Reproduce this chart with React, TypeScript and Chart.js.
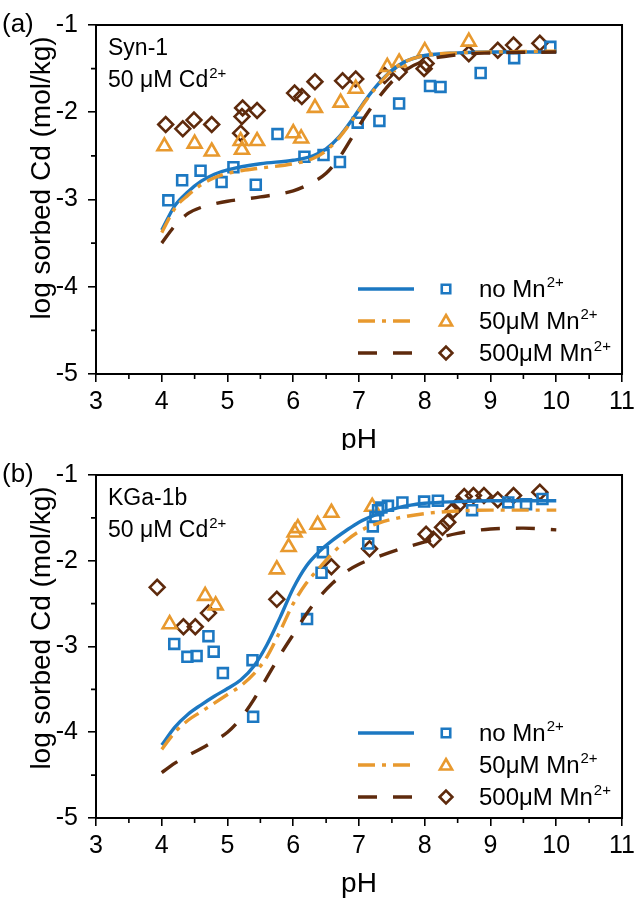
import React, { useEffect, useRef } from 'react';
import { Chart, registerables } from 'chart.js';

Chart.register(...registerables);

// ---------------- data ----------------
// Panel (a) Syn-1 — model curves
const synCurvePH = [4.0, 4.2, 4.4, 4.6, 4.8, 5.0, 5.5, 6.0, 6.3, 6.5, 6.7, 6.9, 7.1, 7.3, 7.5, 7.7, 8.0, 8.5, 9.0, 10.0];
const synModelNoMn = [-3.35, -3.07, -2.91, -2.79, -2.71, -2.66, -2.59, -2.55, -2.50, -2.42, -2.28, -2.08, -1.86, -1.67, -1.52, -1.42, -1.35, -1.32, -1.31, -1.31];
const synModel50Mn = [-3.38, -3.10, -2.95, -2.83, -2.75, -2.70, -2.64, -2.59, -2.53, -2.44, -2.29, -2.09, -1.87, -1.68, -1.52, -1.42, -1.35, -1.32, -1.31, -1.30];
const synModel500Mn = [-3.50, -3.30, -3.16, -3.09, -3.05, -3.02, -2.97, -2.90, -2.80, -2.70, -2.52, -2.28, -2.04, -1.83, -1.65, -1.52, -1.41, -1.34, -1.32, -1.31];

// Panel (a) Syn-1 — measured
const synNoMnPH = [4.10, 4.31, 4.59, 4.91, 5.09, 5.43, 5.76, 6.17, 6.46, 6.71, 6.98, 7.31, 7.61, 8.08, 8.24, 8.85, 9.36, 9.91];
const synNoMnLog = [-3.01, -2.78, -2.67, -2.80, -2.63, -2.83, -2.25, -2.51, -2.49, -2.57, -2.12, -2.10, -1.90, -1.70, -1.71, -1.55, -1.38, -1.25];
const syn50MnPH = [4.04, 4.50, 4.76, 5.20, 5.22, 5.45, 6.00, 6.12, 6.33, 6.72, 6.95, 7.43, 7.61, 8.00, 8.67];
const syn50MnLog = [-2.39, -2.36, -2.45, -2.33, -2.43, -2.33, -2.24, -2.30, -1.95, -1.89, -1.73, -1.48, -1.43, -1.30, -1.19];
const syn500MnPH = [4.06, 4.32, 4.49, 4.76, 5.20, 5.22, 5.23, 5.45, 6.02, 6.13, 6.33, 6.75, 6.95, 7.39, 7.61, 7.99, 8.02, 8.67, 9.11, 9.35, 9.75];
const syn500MnLog = [-2.14, -2.19, -2.09, -2.14, -2.24, -2.05, -1.95, -1.98, -1.78, -1.82, -1.65, -1.64, -1.62, -1.58, -1.54, -1.50, -1.44, -1.33, -1.29, -1.23, -1.21];

// Panel (b) KGa-1b — model curves
const kgaCurvePH = [4.0, 4.2, 4.4, 4.6, 4.8, 5.0, 5.2, 5.4, 5.6, 5.8, 6.0, 6.2, 6.4, 6.6, 6.8, 7.0, 7.3, 7.6, 8.0, 8.5, 9.0, 9.5, 10.0];
const kgaModelNoMn = [-4.15, -3.94, -3.79, -3.68, -3.58, -3.49, -3.39, -3.23, -2.98, -2.66, -2.32, -2.06, -1.89, -1.76, -1.65, -1.55, -1.45, -1.38, -1.33, -1.31, -1.30, -1.30, -1.30];
const kgaModel50Mn = [-4.20, -4.00, -3.86, -3.76, -3.66, -3.56, -3.46, -3.32, -3.12, -2.82, -2.50, -2.26, -2.08, -1.91, -1.77, -1.66, -1.56, -1.50, -1.45, -1.42, -1.41, -1.41, -1.41];
const kgaModel500Mn = [-4.47, -4.36, -4.27, -4.19, -4.10, -4.00, -3.84, -3.62, -3.36, -3.10, -2.86, -2.62, -2.42, -2.26, -2.13, -2.04, -1.95, -1.87, -1.78, -1.68, -1.63, -1.62, -1.64];

// Panel (b) KGa-1b — measured
const kgaNoMnPH = [4.19, 4.39, 4.53, 4.71, 4.79, 4.93, 5.38, 5.39, 6.21, 6.43, 6.45, 7.14, 7.21, 7.25, 7.29, 7.34, 7.44, 7.66, 7.99, 8.20, 8.72, 9.27, 9.54, 9.79];
const kgaNoMnLog = [-2.97, -3.12, -3.11, -2.88, -3.06, -3.31, -3.16, -3.82, -2.68, -2.14, -1.90, -1.80, -1.60, -1.49, -1.41, -1.38, -1.36, -1.32, -1.31, -1.30, -1.41, -1.32, -1.34, -1.28];
const kga50MnPH = [4.12, 4.66, 4.82, 5.75, 5.93, 6.02, 6.07, 6.37, 6.58, 7.20];
const kga50MnLog = [-2.74, -2.41, -2.52, -2.10, -1.84, -1.67, -1.62, -1.58, -1.44, -1.37];
const kga500MnPH = [3.93, 4.33, 4.51, 4.71, 5.75, 6.58, 7.16, 8.02, 8.13, 8.27, 8.35, 8.43, 8.52, 8.60, 8.74, 8.90, 9.11, 9.35, 9.75];
const kga500MnLog = [-2.31, -2.77, -2.77, -2.61, -2.45, -2.07, -1.86, -1.69, -1.75, -1.61, -1.55, -1.41, -1.34, -1.25, -1.24, -1.24, -1.29, -1.24, -1.20];

// axes
const X_MIN = 3, X_MAX = 11;
const Y_MIN = -5, Y_MAX = -1;
const xMinorTicks = [3.5, 4.5, 5.5, 6.5, 7.5, 8.5, 9.5, 10.5];
const yMinorTicks = [-1.5, -2.5, -3.5, -4.5];

const legendLabels = ['no Mn', '50\u03bcM Mn', '500\u03bcM Mn'];
const legendSup = '2+';

// ---------------- style ----------------
const FAMILY = "'Liberation Sans', Arial, Helvetica, sans-serif";
const BLUE = '#1c78c2';
const ORANGE = '#e8992e';
const BROWN = '#5e2a0c';
const COLORS = [BLUE, ORANGE, BROWN];
const DASHES: number[][] = [[], [17, 7, 4, 7], [19, 16]];
const SHAPES = ['rect', 'triangle', 'rectRot'];
const RADII = [7.0, 8.0, 7.4];

function pts(xs: number[], ys: number[]) {
  return xs.map((x, i) => ({ x, y: ys[i] }));
}

function drawMarker(ctx: CanvasRenderingContext2D, shape: string, x: number, y: number, r: number) {
  ctx.beginPath();
  if (shape === 'rect') {
    const s = Math.SQRT1_2 * r;
    ctx.rect(x - s, y - s, 2 * s, 2 * s);
  } else if (shape === 'triangle') {
    for (let k = 0; k < 3; k++) {
      const a = (k * 2 * Math.PI) / 3;
      const px = x + Math.sin(a) * r;
      const py = y - Math.cos(a) * r;
      if (k === 0) ctx.moveTo(px, py);
      else ctx.lineTo(px, py);
    }
    ctx.closePath();
  } else {
    ctx.moveTo(x - r, y);
    ctx.lineTo(x, y - r);
    ctx.lineTo(x + r, y);
    ctx.lineTo(x, y + r);
    ctx.closePath();
  }
  ctx.stroke();
}

function textWithSup(ctx: CanvasRenderingContext2D, x: number, y: number, base: string, sup: string, size: number) {
  ctx.font = `${size}px ${FAMILY}`;
  ctx.textAlign = 'left';
  ctx.textBaseline = 'alphabetic';
  ctx.fillText(base, x, y);
  const w = ctx.measureText(base).width;
  ctx.font = `${Math.round(size * 0.64)}px ${FAMILY}`;
  ctx.fillText(sup, x + w + 1, y - size * 0.4);
}

interface PanelSpec {
  height: number;
  top: number;
  letter: string;
  sample: string;
  curvePH: number[];
  models: number[][];
  obsPH: number[][];
  obsLog: number[][];
}

function makeChart(canvas: HTMLCanvasElement, p: PanelSpec) {
  const axisH = p.height - (p.top + 351);
  const lineSets = [2, 1, 0].map((i) => ({
    data: pts(p.curvePH, p.models[i]),
    showLine: true,
    pointRadius: 0,
    borderColor: COLORS[i],
    borderWidth: 3.4,
    borderDash: DASHES[i],
    borderCapStyle: 'butt' as const,
    cubicInterpolationMode: 'monotone' as const,
    fill: false,
  }));
  const pointSets = [0, 1, 2].map((i) => ({
    data: pts(p.obsPH[i], p.obsLog[i]),
    showLine: false,
    pointStyle: SHAPES[i],
    pointRadius: RADII[i],
    pointBorderWidth: 2.6,
    borderColor: COLORS[i],
    pointBorderColor: COLORS[i],
    backgroundColor: 'rgba(0,0,0,0)',
    pointBackgroundColor: 'rgba(0,0,0,0)',
  }));

  const decor = {
    id: 'decor',
    afterDraw(chart: any) {
      const ctx: CanvasRenderingContext2D = chart.ctx;
      const { left, right, top, bottom } = chart.chartArea;
      const xs = chart.scales.x;
      const ys = chart.scales.y;
      ctx.save();
      // frame
      ctx.strokeStyle = '#000';
      ctx.lineWidth = 2;
      ctx.strokeRect(left, top, right - left, bottom - top);
      // minor ticks
      ctx.lineWidth = 1.6;
      ctx.beginPath();
      xMinorTicks.forEach((v) => {
        const px = xs.getPixelForValue(v);
        ctx.moveTo(px, bottom);
        ctx.lineTo(px, bottom + 5);
      });
      yMinorTicks.forEach((v) => {
        const py = ys.getPixelForValue(v);
        ctx.moveTo(left, py);
        ctx.lineTo(left - 5, py);
      });
      ctx.stroke();

      ctx.fillStyle = '#000';
      // panel letter
      ctx.font = `26px ${FAMILY}`;
      ctx.textAlign = 'left';
      ctx.textBaseline = 'alphabetic';
      ctx.fillText(p.letter, 2, top + 7);
      // axis titles
      ctx.font = `28px ${FAMILY}`;
      ctx.textAlign = 'center';
      ctx.fillText('pH', (left + right) / 2, bottom + 74);
      ctx.save();
      ctx.translate(50, top + 153);
      ctx.rotate(-Math.PI / 2);
      ctx.textBaseline = 'alphabetic';
      ctx.fillText('log sorbed Cd (mol/kg)', 0, 0);
      ctx.restore();
      // sample annotation
      ctx.font = `23px ${FAMILY}`;
      ctx.textAlign = 'left';
      ctx.fillText(p.sample, left + 12, top + 30);
      textWithSup(ctx, left + 12, top + 62, '50 \u03bcM Cd', '2+', 23);
      // legend
      const rows = [bottom - 85, bottom - 53, bottom - 21];
      rows.forEach((ry, i) => {
        ctx.strokeStyle = COLORS[i];
        ctx.lineWidth = 3.4;
        ctx.setLineDash(DASHES[i]);
        ctx.beginPath();
        ctx.moveTo(left + 262, ry);
        ctx.lineTo(left + 318, ry);
        ctx.stroke();
        ctx.setLineDash([]);
        ctx.lineWidth = 2.6;
        drawMarker(ctx, SHAPES[i], left + 350, ry + (i === 1 ? 1 : 0), RADII[i] - 1);
        ctx.fillStyle = '#000';
        textWithSup(ctx, left + 383, ry + 8, legendLabels[i], legendSup, 24);
      });
      ctx.restore();
    },
  };

  const tickFont = { family: FAMILY, size: 25 };
  return new Chart(canvas, {
    type: 'scatter',
    data: { datasets: [...lineSets, ...pointSets] as any },
    options: {
      responsive: false,
      maintainAspectRatio: false,
      animation: false,
      devicePixelRatio: 1,
      layout: { padding: { top: p.top, right: 14, left: 0, bottom: 0 } },
      plugins: { legend: { display: false }, tooltip: { enabled: false } },
      scales: {
        x: {
          type: 'linear',
          min: X_MIN,
          max: X_MAX,
          ticks: { stepSize: 1, font: tickFont, color: '#000', padding: 5, maxRotation: 0, autoSkip: false },
          grid: { display: true, drawOnChartArea: false, drawTicks: true, tickLength: 8, color: '#000', lineWidth: 1.6 },
          border: { display: false },
          afterFit: (s: any) => {
            s.height = axisH;
          },
        },
        y: {
          type: 'linear',
          min: Y_MIN,
          max: Y_MAX,
          ticks: { stepSize: 1, font: tickFont, color: '#000', padding: 10 },
          grid: { display: true, drawOnChartArea: false, drawTicks: true, tickLength: 8, color: '#000', lineWidth: 1.6 },
          border: { display: false },
          afterFit: (s: any) => {
            s.width = 96;
          },
        },
      },
    } as any,
    plugins: [decor],
  });
}

const panelA: PanelSpec = {
  height: 450,
  top: 23,
  letter: '(a)',
  sample: 'Syn-1',
  curvePH: synCurvePH,
  models: [synModelNoMn, synModel50Mn, synModel500Mn],
  obsPH: [synNoMnPH, syn50MnPH, syn500MnPH],
  obsLog: [synNoMnLog, syn50MnLog, syn500MnLog],
};

const panelB: PanelSpec = {
  height: 449,
  top: 17,
  letter: '(b)',
  sample: 'KGa-1b',
  curvePH: kgaCurvePH,
  models: [kgaModelNoMn, kgaModel50Mn, kgaModel500Mn],
  obsPH: [kgaNoMnPH, kga50MnPH, kga500MnPH],
  obsLog: [kgaNoMnLog, kga50MnLog, kga500MnLog],
};

function Panel({ spec }: { spec: PanelSpec }) {
  const ref = useRef<HTMLCanvasElement>(null);
  useEffect(() => {
    if (!ref.current) return;
    const chart = makeChart(ref.current, spec);
    return () => chart.destroy();
  }, [spec]);
  return (
    <canvas
      ref={ref}
      width={640}
      height={spec.height}
      style={{ display: 'block', width: 640, height: spec.height }}
    />
  );
}

export default function App() {
  return (
    <div style={{ position: 'absolute', left: 0, top: 0, width: 640, height: 899, background: '#fff' }}>
      <Panel spec={panelA} />
      <Panel spec={panelB} />
    </div>
  );
}
